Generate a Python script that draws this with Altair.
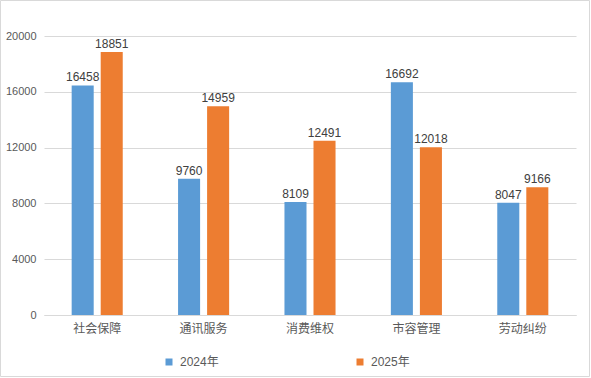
import altair as alt
import pandas as pd

categories = ["社会保障", "通讯服务", "消费维权", "市容管理", "劳动纠纷"]
series_names = ["2024年", "2025年"]
values_2024 = [16458, 9760, 8109, 16692, 8047]
values_2025 = [18851, 14959, 12491, 12018, 9166]
y_ticks = [0, 4000, 8000, 12000, 16000, 20000]
colors = ["#5B9BD5", "#ED7D31"]

rows = []
for c, a, b in zip(categories, values_2024, values_2025):
    rows.append({"cat": c, "series": series_names[0], "value": a})
    rows.append({"cat": c, "series": series_names[1], "value": b})
df = pd.DataFrame(rows)

FONT = "Liberation Sans, Noto Sans CJK SC, sans-serif"
W, H = 532, 279
PL, PT = 44, 36

x_enc = alt.X("cat:N", sort=categories, title=None,
              scale=alt.Scale(paddingInner=0.52, paddingOuter=0.26),
              axis=alt.Axis(labelAngle=0, ticks=False, domainColor="#D9D9D9",
                            labelPadding=8, labelFontSize=12, labelColor="#595959",
                            labelFont=FONT, grid=False))
xo_enc = alt.XOffset("series:N", sort=series_names,
                     scale=alt.Scale(paddingInner=0.241, paddingOuter=0))
y_enc = alt.Y("value:Q", title=None,
              scale=alt.Scale(domain=[0, 20000], nice=False),
              axis=alt.Axis(values=y_ticks, format="d", ticks=False, domain=False,
                            gridColor="#D9D9D9", labelPadding=8, labelFontSize=11,
                            labelColor="#595959", labelFont=FONT))
color_enc = alt.Color("series:N", sort=series_names,
                      scale=alt.Scale(domain=series_names, range=colors),
                      legend=alt.Legend(title=None, orient="none", direction="horizontal",
                                        legendX=163 - PL, legendY=356 - PT,
                                        symbolType="square", symbolSize=49,
                                        symbolStrokeWidth=0, labelFontSize=12,
                                        labelColor="#595959", labelFont=FONT,
                                        labelOffset=5, columnPadding=135))

bars = alt.Chart(df).mark_bar().encode(x=x_enc, xOffset=xo_enc, y=y_enc, color=color_enc)

labels = alt.Chart(df).mark_text(baseline="alphabetic", dy=-4, fontSize=12,
                                 color="#404040", font=FONT).encode(
    x=alt.X("cat:N", sort=categories), xOffset=alt.XOffset("series:N", sort=series_names),
    y="value:Q", text="value:Q")

border = alt.Chart(pd.DataFrame({"a": [0]})).mark_rect(
    fill="transparent", stroke="#D9D9D9", strokeWidth=1, clip=False).encode(
    x=alt.value(-PL + 0.5), x2=alt.value(589.5 - PL),
    y=alt.value(-PT + 0.5), y2=alt.value(376.5 - PT))

chart = alt.layer(bars, labels, border).properties(
    width=W, height=H,
    background="white",
    autosize=alt.AutoSizeParams(type="none"),
    padding={"left": PL, "top": PT, "right": 591 - PL - W, "bottom": 378 - PT - H},
).configure_view(strokeWidth=0, stroke="transparent")

chart.save("out.html", embed_options={"renderer": "svg", "actions": False})
